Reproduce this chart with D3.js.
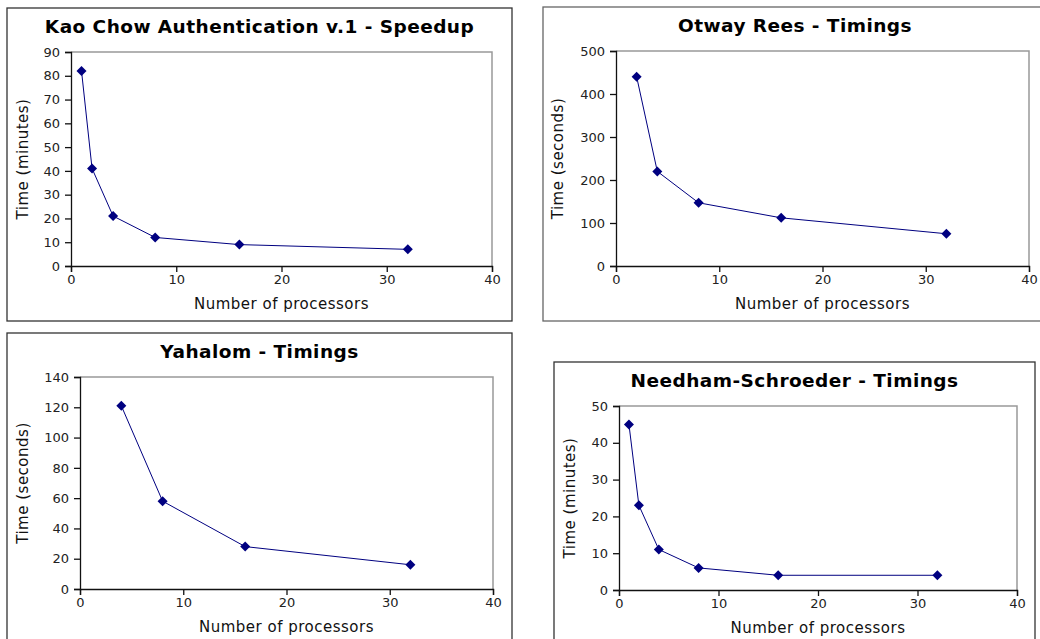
<!DOCTYPE html>
<html lang="en">
<head>
<meta charset="utf-8">
<script src="https://d3js.org/d3.v7.min.js"></script>
<style>
  body { margin: 0; background: #fff; }
  svg { display: block; font-family: "DejaVu Sans", sans-serif; }
  .frame { fill: none; stroke: #999; stroke-width: 1.5px; }
  .axis path, .axis line { stroke: #111; stroke-width: 1.3px; }
  .line { fill: none; stroke: #000080; stroke-width: 1px; }
  .dot { fill: #000080; }
</style>
<title>Protocol timings</title>
</head>
<body>
<div id="chart"></div>
<script>
// data
var kaoProcs = [1, 2, 4, 8, 16, 32];
var kaoTimes = [82, 41, 21, 12, 9, 7];
var otwayProcs = [2, 4, 8, 16, 32];
var otwayTimes = [440, 220, 147, 112, 75];
var yahalomProcs = [4, 8, 16, 32];
var yahalomTimes = [121, 58, 28, 16];
var needhamProcs = [1, 2, 4, 8, 16, 32];
var needhamTimes = [45, 23, 11, 6, 4, 4];

var xTicks = [0, 10, 20, 30, 40];
var kaoYTicks = [0, 10, 20, 30, 40, 50, 60, 70, 80, 90];
var otwayYTicks = [0, 100, 200, 300, 400, 500];
var yahalomYTicks = [0, 20, 40, 60, 80, 100, 120, 140];
var needhamYTicks = [0, 10, 20, 30, 40, 50];

var panels = [
  {title: "Kao Chow Authentication v.1 - Speedup", yLabel: "Time (minutes)",
   xs: kaoProcs, ys: kaoTimes, yTicks: kaoYTicks,
   box: [7, 8, 505, 313], boxColor: "#333",
   plot: {left: 71, right: 492, top: 52, bottom: 266}, yLabelX: 23},
  {title: "Otway Rees - Timings", yLabel: "Time (seconds)",
   xs: otwayProcs, ys: otwayTimes, yTicks: otwayYTicks,
   box: [543, 7, 504, 314], boxColor: "#666",
   plot: {left: 616, right: 1029, top: 51, bottom: 266}, yLabelX: 558},
  {title: "Yahalom - Timings", yLabel: "Time (seconds)",
   xs: yahalomProcs, ys: yahalomTimes, yTicks: yahalomYTicks,
   box: [7, 333, 505, 320], boxColor: "#333",
   plot: {left: 80, right: 493, top: 377, bottom: 589}, yLabelX: 23},
  {title: "Needham-Schroeder - Timings", yLabel: "Time (minutes)",
   xs: needhamProcs, ys: needhamTimes, yTicks: needhamYTicks,
   box: [554, 362, 481, 300], boxColor: "#333",
   plot: {left: 619, right: 1017, top: 406, bottom: 590}, yLabelX: 570}
];

var svg = d3.select("#chart")
  .append("svg")
    .attr("width", 1040)
    .attr("height", 639);

var diamond = d3.symbol().type(d3.symbolDiamond2).size(64);

panels.forEach(function(p) {
  var g = svg.append("g");

  g.append("rect")
    .attr("x", p.box[0]).attr("y", p.box[1])
    .attr("width", p.box[2]).attr("height", p.box[3])
    .attr("fill", "none")
    .attr("stroke", p.boxColor)
    .attr("stroke-width", 1.3);

  var x = d3.scaleLinear().domain([0, 40]).range([p.plot.left, p.plot.right]);
  var y = d3.scaleLinear()
    .domain([0, d3.max(p.yTicks)])
    .range([p.plot.bottom, p.plot.top]);

  // grey frame on top and right
  g.append("path")
    .attr("class", "frame")
    .attr("d", "M" + p.plot.left + "," + p.plot.top + "H" + p.plot.right + "V" + p.plot.bottom);

  var xAxis = g.append("g")
    .attr("class", "axis")
    .attr("transform", "translate(0," + p.plot.bottom + ")")
    .call(d3.axisBottom(x).tickValues(xTicks).tickSizeOuter(0).tickSize(6).tickPadding(3));

  var yAxis = g.append("g")
    .attr("class", "axis")
    .attr("transform", "translate(" + p.plot.left + ",0)")
    .call(d3.axisLeft(y).tickValues(p.yTicks).tickSizeOuter(0).tickSize(6).tickPadding(5));

  [xAxis, yAxis].forEach(function(a) {
    a.selectAll("text")
      .style("font-family", "'DejaVu Sans', sans-serif")
      .style("font-size", "13px")
      .attr("fill", "#222");
  });

  var pts = p.xs.map(function(v, i) { return [v, p.ys[i]]; });

  g.append("path")
    .datum(pts)
    .attr("class", "line")
    .attr("d", d3.line()
      .x(function(d) { return x(d[0]); })
      .y(function(d) { return y(d[1]); }));

  g.selectAll(".dot")
    .data(pts)
    .enter().append("path")
      .attr("class", "dot")
      .attr("d", diamond)
      .attr("transform", function(d) { return "translate(" + x(d[0]) + "," + y(d[1]) + ")"; });

  g.append("text")
    .attr("x", p.box[0] + p.box[2] / 2)
    .attr("y", p.plot.top - 19)
    .attr("text-anchor", "middle")
    .style("font-size", "18.5px")
    .style("letter-spacing", "0.45px")
    .style("font-weight", "bold")
    .text(p.title);

  g.append("text")
    .attr("x", (p.plot.left + p.plot.right) / 2)
    .attr("y", p.plot.bottom + 43)
    .attr("text-anchor", "middle")
    .style("font-size", "15px")
    .style("letter-spacing", "0.5px")
    .attr("fill", "#111")
    .text("Number of processors");

  g.append("text")
    .attr("transform", "translate(" + (p.yLabelX + 5) + "," + ((p.plot.top + p.plot.bottom) / 2) + ") rotate(-90)")
    .attr("text-anchor", "middle")
    .style("font-size", "15px")
    .style("letter-spacing", "0.5px")
    .attr("fill", "#111")
    .text(p.yLabel);
});
</script>
</body>
</html>
